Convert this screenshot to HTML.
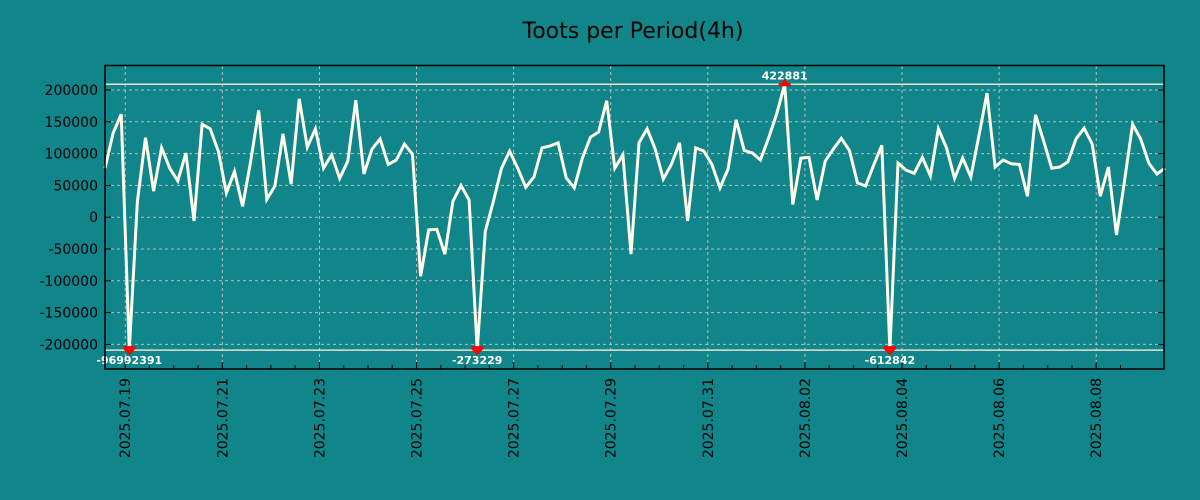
<!DOCTYPE html>
<html><head><meta charset="utf-8"><style>
body{margin:0;background:#10858a;}
svg{display:block;font-family:"DejaVu Sans","Liberation Sans",sans-serif;}
</style></head><body>
<svg id="chart" width="1200" height="500" viewBox="0 0 1200 500">
<rect x="0" y="0" width="1200" height="500" fill="#10858a"/>
<text x="633" y="38" font-size="22" text-anchor="middle" fill="#000">Toots per Period(4h)</text>
<g id="grid"></g><g id="axes"></g><g id="series"></g><g id="marks"></g>
<rect x="105" y="65.5" width="1059" height="303.5" fill="none" stroke="#000" stroke-width="1.5"/>
</svg>
<script>
const startTime = Date.UTC(2025,6,18,14,0);
const periodHours = 4;
const values = [77000,132000,162000,-96992391,25000,125000,41000,109000,77000,57000,101000,-6000,146000,139000,104000,38000,72000,17000,88000,168000,28000,49000,131000,52000,186000,110000,139000,77000,98000,61000,88000,184000,68000,107000,123000,83000,90000,115000,99000,-93000,-20000,-19000,-58000,25000,50000,27000,-273229,-22000,25000,77000,104000,77000,47000,63000,109000,112000,117000,62000,46000,93000,126000,134000,183000,77000,98000,-58000,117000,139000,107000,60000,83000,117000,-6000,109000,104000,83000,46000,76000,153000,105000,101000,90000,124000,162000,422881,20000,93000,94000,27000,88000,107000,124000,105000,54000,49000,82000,113000,-612842,85000,74000,69000,94000,65000,139000,109000,61000,93000,63000,128000,195000,79000,90000,84000,83000,33000,161000,120000,77000,79000,87000,123000,140000,115000,33000,79000,-28000,58000,146000,123000,85000,68000,77000];
const yTicks = [200000,150000,100000,50000,0,-50000,-100000,-150000,-200000];
const xTickLabels = ["2025.07.19","2025.07.21","2025.07.23","2025.07.25","2025.07.27","2025.07.29","2025.07.31","2025.08.02","2025.08.04","2025.08.06","2025.08.08"];
const clipLimit = 209000;

const NS="http://www.w3.org/2000/svg";
const X0=105, PXH=48.55/24, Y0=217.2, KY=0.000636;
function xT(t){return X0+(t-startTime)/3600000*PXH;}
function xI(i){return xT(startTime+i*periodHours*3600000);}
function y(v){return Y0-v*KY;}
function mk(tag,attrs,parent){const e=document.createElementNS(NS,tag);for(const k in attrs)e.setAttribute(k,attrs[k]);parent.appendChild(e);return e;}
const grid=document.getElementById('grid'),axes=document.getElementById('axes'),series=document.getElementById('series'),marks=document.getElementById('marks');

yTicks.forEach(v=>{
  const yy=y(v);
  const g=mk('line',{x1:105,x2:1164,y1:yy,y2:yy,stroke:'#bbb','stroke-dasharray':'3,3','stroke-width':1},grid);
  
  
  const t=mk('line',{x1:105,x2:111,y1:yy,y2:yy,stroke:'#000'},axes);
  
  
  const t2=mk('line',{x1:1158,x2:1164,y1:yy,y2:yy,stroke:'#000'},axes);
  
  
  const l=mk('text',{x:98,y:yy+5,'font-size':14,'text-anchor':'end',fill:'#000'},axes);
  l.textContent=String(v);
  
  
});
xTickLabels.forEach(s=>{
  const p=s.split('.');
  const t=Date.UTC(+p[0],+p[1]-1,+p[2]);
  const xx=xT(t);
  const g=mk('line',{x1:xx,x2:xx,y1:66,y2:369,stroke:'#bbb','stroke-dasharray':'3,3','stroke-width':1},grid);
  
  
  const tk=mk('line',{x1:xx,x2:xx,y1:362,y2:369,stroke:'#000'},axes);
  
  
  const l=mk('text',{x:0,y:0,'font-size':14,'text-anchor':'end',fill:'#000',transform:`translate(${xx+5},378) rotate(-90)`},axes);
  l.textContent=s;
  
  
});
for(let h=12;h<24*22;h+=12){
  const xx=xT(Date.UTC(2025,6,18)+h*3600000);
  if(xx<106||xx>1163)continue;
  const m=mk('line',{x1:xx,x2:xx,y1:365,y2:369,stroke:'#000'},axes);
  
  
}
[clipLimit,-clipLimit].forEach(v=>{
  const r=mk('line',{x1:105,x2:1164,y1:y(v),y2:y(v),stroke:'#e8e0d0','stroke-width':1.5},grid);
  
  
});
const pts=values.map((v,i)=>`${xI(i).toFixed(1)},${y(Math.max(-clipLimit,Math.min(clipLimit,v))).toFixed(1)}`).join(' ');
const line=mk('polyline',{points:pts,fill:'none',stroke:'#fffbe8','stroke-width':3,'stroke-linejoin':'miter'},series);


values.forEach((v,i)=>{
  if(Math.abs(v)<=clipLimit)return;
  const xx=xI(i), top=v>0, yy=y(top?clipLimit:-clipLimit);
  const tri=mk('polygon',{points:top?`${xx-6},${yy+1} ${xx+6},${yy+1} ${xx},${yy-5}`:`${xx-6},${yy-1} ${xx+6},${yy-1} ${xx},${yy+5}`,fill:'#ff0000'},marks);
  
  
  const bar=mk('rect',{x:xx-6,y:top?yy-1:yy-4,width:12,height:3,fill:'#ff0000'},marks);
  
  
  const l=mk('text',{x:xx,y:top?yy-5:yy+14,'font-size':11,'font-weight':'bold','text-anchor':'middle',fill:'#fff'},marks);
  l.textContent=String(v);
  
  
});
</script>
</body></html>
